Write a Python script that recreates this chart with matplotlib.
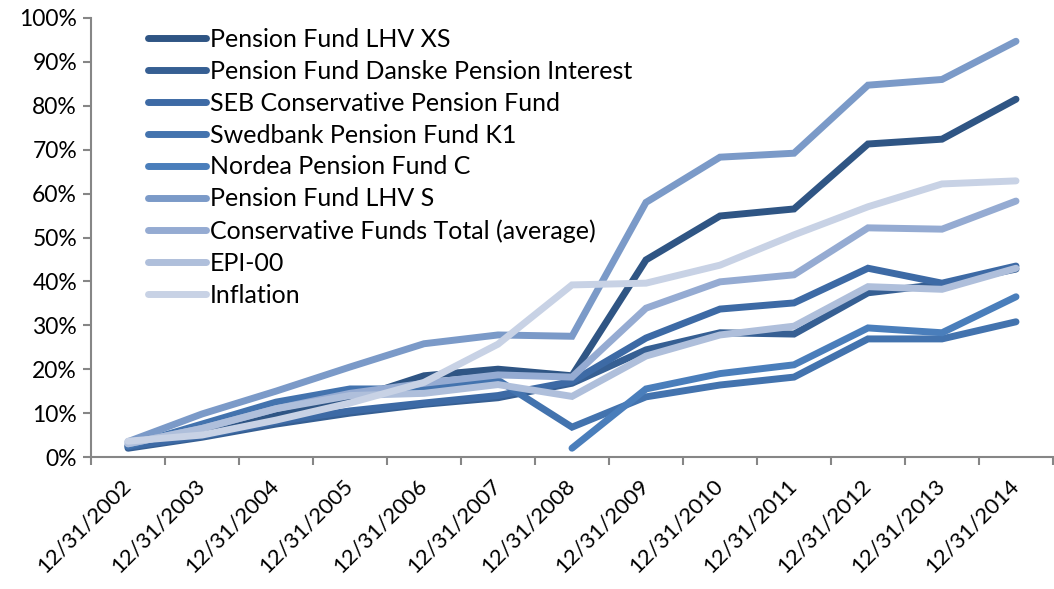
import matplotlib
matplotlib.use("Agg")
import matplotlib.pyplot as plt
import numpy as np

dates = ["12/31/2002", "12/31/2003", "12/31/2004", "12/31/2005", "12/31/2006",
         "12/31/2007", "12/31/2008", "12/31/2009", "12/31/2010", "12/31/2011",
         "12/31/2012", "12/31/2013", "12/31/2014"]

lhv_xs = [2.5, 5.5, 9.5, 13.0, 18.5, 20.0, 18.5, 44.9, 54.9, 56.5, 71.3, 72.4, 81.5]
danske = [2.0, 4.5, 7.5, 10.0, 12.0, 13.5, 16.8, 24.4, 28.3, 28.0, 37.4, 39.4, 42.8]
seb = [2.3, 4.8, 8.0, 10.5, 12.3, 14.0, 17.2, 27.1, 33.7, 35.1, 43.0, 39.6, 43.5]
swedbank = [2.5, 7.5, 12.5, 15.5, 15.5, 17.5, 6.8, 13.7, 16.4, 18.2, 26.9, 26.9, 30.8]
nordea = [None, None, None, None, None, None, 2.0, 15.5, 19.0, 21.0, 29.4, 28.3, 36.5]
lhv_s = [3.5, 9.8, 15.0, 20.5, 25.8, 27.8, 27.5, 58.0, 68.3, 69.2, 84.7, 86.0, 94.7]
cons_avg = [3.0, 6.5, 11.0, 14.5, 16.8, 18.7, 18.2, 33.9, 39.9, 41.5, 52.2, 51.9, 58.3]
epi_00 = [3.0, 6.5, 11.0, 14.0, 14.5, 16.5, 13.8, 23.0, 27.8, 29.8, 38.8, 38.2, 43.0]
inflation = [3.6, 5.0, 8.4, 12.3, 17.0, 25.7, 39.2, 39.6, 43.7, 50.6, 57.0, 62.2, 62.9]

series_names = ["Pension Fund LHV XS", "Pension Fund Danske Pension Interest",
                "SEB Conservative Pension Fund", "Swedbank Pension Fund K1",
                "Nordea Pension Fund C", "Pension Fund LHV S",
                "Conservative Funds Total (average)", "EPI-00", "Inflation"]
series_values = [lhv_xs, danske, seb, swedbank, nordea, lhv_s, cons_avg, epi_00, inflation]
colors = ["#2F5584", "#365F93", "#3D6AA5", "#4373AE", "#4A7EBB",
          "#7B9AC8", "#95ABD2", "#AFBFDB", "#C8D2E5"]

font = "Lato"
plt.rcParams['font.family'] = [font, 'DejaVu Sans']

fig = plt.figure(figsize=(10.54, 5.89), dpi=100)
ax = fig.add_axes([91/1054, 132/589, 962/1054, 439/589])

x = np.arange(len(dates))
for name, vals, c in zip(series_names, series_values, colors):
    y = np.array([np.nan if v is None else v/100.0 for v in vals])
    ax.plot(x, y, color=c, lw=5, solid_capstyle='round', solid_joinstyle='miter', label=name)

ax.set_xlim(-0.5, len(dates) - 0.5)
ax.set_ylim(0, 1.0)
ax.set_yticks(np.arange(0, 1.01, 0.1))
ax.set_yticklabels([f"{int(round(v*100))}%" for v in np.arange(0, 1.01, 0.1)], fontsize=16.5)

ax.set_xticks(np.arange(-0.5, len(dates), 1.0))
ax.set_xticklabels([])
ax.set_xticks(x, minor=True)
ax.set_xticklabels(dates, minor=True, rotation=45, ha='right', va='center',
                   rotation_mode='anchor', fontsize=16)
ax.tick_params(axis='x', which='minor', length=0, pad=18)
ax.tick_params(axis='x', which='major', length=6, width=1.5, color='#868686', direction='out')
ax.tick_params(axis='y', length=6, width=1.5, color='#868686', direction='out', pad=4)

for s in ['top', 'right']:
    ax.spines[s].set_visible(False)
for s in ['left', 'bottom']:
    ax.spines[s].set_color('#868686')
    ax.spines[s].set_linewidth(1.5)

leg = ax.legend(loc='upper left', bbox_to_anchor=(47/962, 1.0), frameon=False,
                fontsize=18, handlelength=2.3, handletextpad=0.16, labelspacing=0.355,
                borderaxespad=0)

fig.savefig("out.png", dpi=100)
